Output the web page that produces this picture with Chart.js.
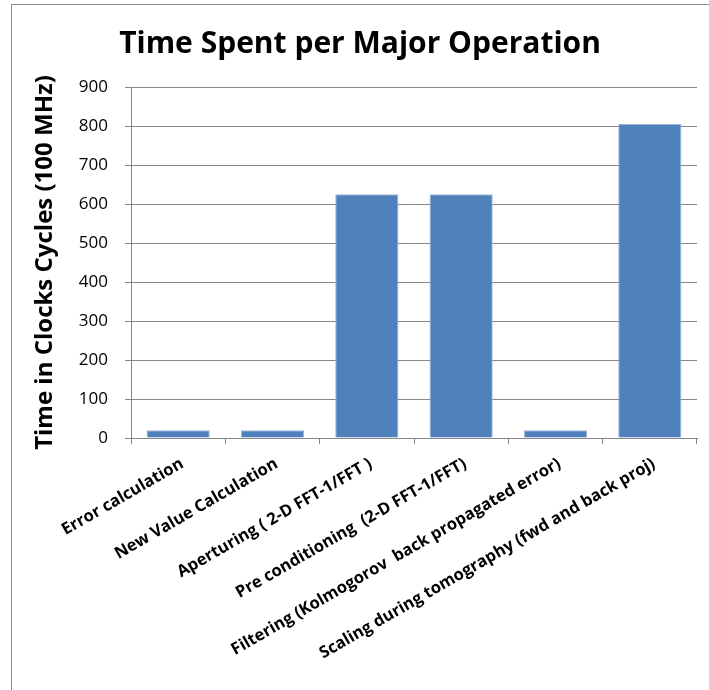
<!DOCTYPE html>
<html>
<head>
<meta charset="utf-8">
<script src="https://cdn.jsdelivr.net/npm/chart.js@4"></script>
<style>
  html, body { margin: 0; padding: 0; background: #fff; }
  #wrap { position: relative; width: 709px; height: 690px; }
  #frame { position: absolute; left: 11px; top: 4px; right: -2px; bottom: -2px; border: 1px solid #8c8c8c; }
  canvas { position: absolute; left: 0; top: 0; }
</style>
</head>
<body>
<div id="wrap">
  <div id="frame"></div>
  <canvas id="chart" width="709" height="690"></canvas>
</div>
<script>
// 操作ごとのデータ
const operations = [
  'Error calculation',
  'New Value Calculation',
  'Aperturing ( 2-D FFT-1/FFT )',
  'Pre conditioning  (2-D FFT-1/FFT)',
  'Filtering (Kolmogorov  back propagated error)',
  'Scaling during tomography (fwd and back proj)'
];
const clockCycles = [20, 20, 625, 625, 20, 805];
const yTicks = [0, 100, 200, 300, 400, 500, 600, 700, 800, 900];

const fontFamily = '"Open Sans", Lato, sans-serif';
const gridColor = '#868686';

const ctx = document.getElementById('chart').getContext('2d');

new Chart(ctx, {
  type: 'bar',
  data: {
    labels: operations,
    datasets: [{
      label: 'Time',
      data: clockCycles,
      backgroundColor: '#4F81BD',
      borderColor: '#9DB5D8',
      borderWidth: 1,
      barPercentage: 0.67,
      categoryPercentage: 1
    }]
  },
  options: {
    responsive: false,
    animation: false,
    layout: { padding: { top: 10, right: 12, bottom: 0, left: 23 } },
    plugins: {
      legend: { display: false },
      tooltip: { enabled: false },
      title: {
        display: true,
        text: 'Time Spent per Major Operation',
        color: '#000',
        font: { family: fontFamily, size: 30, weight: 'bold' },
        padding: { top: 16, bottom: 25 }
      }
    },
    scales: {
      x: {
        grid: { drawOnChartArea: false, drawTicks: true, tickLength: 6, color: gridColor },
        border: { color: gridColor },
        ticks: {
          color: '#000',
          font: { family: fontFamily, size: 16.5, weight: 'bold' },
          minRotation: 30,
          maxRotation: 30,
          autoSkip: false,
          labelOffset: 4,
          padding: 10
        },
        afterFit: scale => { scale.height = 252; }
      },
      y: {
        min: 0,
        max: 900,
        afterBuildTicks: scale => { scale.ticks = yTicks.map(v => ({ value: v })); },
        grid: { color: gridColor, tickLength: 6 },
        border: { color: gridColor },
        ticks: {
          color: '#000',
          font: { family: fontFamily, size: 17 },
          padding: 17
        },
        title: {
          display: true,
          text: 'Time in Clocks Cycles (100 MHz)',
          color: '#000',
          font: { family: fontFamily, size: 24, weight: 'bold' },
          padding: { top: 8, bottom: 0 }
        },
        afterFit: scale => { scale.width = 108; }
      }
    }
  }
});
</script>
</body>
</html>
